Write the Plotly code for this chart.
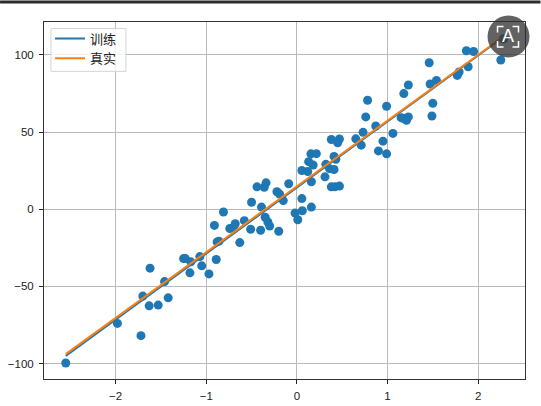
import plotly.graph_objects as go

scatter_x = [-2.55,-1.98,-1.72,-1.70,-1.63,-1.53,-1.42,-1.46,-1.62,-1.25,-1.23,-1.17,-1.18,-1.07,-1.05,-0.97,-0.89,-0.88,-0.86,-0.91,-0.81,-0.74,-0.68,-0.70,-0.63,-0.58,-0.51,-0.50,-0.40,-0.39,-0.35,-0.32,-0.30,-0.20,-0.44,-0.36,-0.34,-0.22,-0.19,-0.15,-0.09,-0.02,0.055,0.06,0.01,0.16,0.055,0.12,0.16,0.13,0.155,0.215,0.18,0.31,0.32,0.36,0.41,0.41,0.43,0.38,0.47,0.45,0.38,0.42,0.47,0.65,0.71,0.73,0.87,0.76,0.78,0.90,0.99,0.95,1.06,0.99,1.15,1.17,1.21,1.23,1.18,1.23,1.49,1.50,1.47,1.54,1.46,1.77,1.79,1.89,1.87,1.95,2.25,2.28]
scatter_y = [-99.6,-74.0,-81.9,-56.3,-62.6,-62.1,-57.4,-46.9,-38.2,-32.0,-32.0,-34.1,-41.2,-30.7,-36.7,-41.9,-32.6,-21.2,-20.7,-10.5,-1.8,-12.5,-9.4,-11.8,-21.6,-7.4,-13.0,4.5,-13.6,1.4,-5.2,-8.3,-10.9,-14.3,14.5,14.2,17.1,11.3,9.8,5.6,16.5,-2.5,6.9,-1.0,-6.8,1.4,25.1,24.4,17.8,30.8,35.9,36.0,28.6,21.0,29.1,26.3,25.7,34.2,32.4,45.2,45.5,43.0,14.5,14.5,15.0,45.6,41.5,49.8,53.9,59.8,70.6,37.8,35.9,44.1,49.1,66.7,59.3,58.9,57.6,59.8,74.9,80.5,60.4,68.6,81.1,83.4,94.9,86.7,88.9,92.3,102.7,102.2,96.7,110.4]

line_x = [-2.55, 2.28]
train_y = [-95.0, 111.6]
true_y = [-93.9, 111.9]
names = ["训练", "真实"]

W, H = 541, 406
L, R, T, B = 44, 525.5, 21.5, 379.5
px = lambda x: (x - L) / (R - L)
py = lambda y: (B - y) / (B - T)

shapes = [
    dict(type="rect", xref="paper", yref="paper", x0=px(0), x1=px(W), y0=py(0), y1=py(3),
         fillcolor="#2b2b2b", line_width=0, layer="above"),
    dict(type="rect", xref="paper", yref="paper", x0=px(51), x1=px(126), y0=py(28), y1=py(71),
         fillcolor="rgba(255,255,255,0.8)", line=dict(color="#d5d5d5", width=1), layer="above"),
    dict(type="circle", xref="paper", yref="paper", x0=px(488), x1=px(530), y0=py(15), y1=py(57),
         fillcolor="rgba(45,45,45,0.75)", line_width=0, layer="above"),
]
# white corner brackets of the icon
for (cx, cy, dx, dy) in [(498, 26, 1, 1), (519, 26, -1, 1), (498, 46.5, 1, -1), (519, 46.5, -1, -1)]:
    shapes.append(dict(type="path", xref="paper", yref="paper", layer="above",
                       path=f"M {px(cx+dx*6)} {py(cy)} L {px(cx)} {py(cy)} L {px(cx)} {py(cy+dy*6)}",
                       line=dict(color="white", width=1.5)))

fig = go.Figure()
fig.add_trace(go.Scatter(x=scatter_x, y=scatter_y, mode="markers", showlegend=False,
                         marker=dict(color="#1f77b4", size=9, line_width=0)))
fig.add_trace(go.Scatter(x=line_x, y=train_y, mode="lines", name=names[0],
                         line=dict(color="#1f77b4", width=2)))
fig.add_trace(go.Scatter(x=line_x, y=true_y, mode="lines", name=names[1],
                         line=dict(color="#ff7f0e", width=2)))

axis = dict(showgrid=True, gridcolor="#b9b9b9", gridwidth=1, zeroline=False, showline=True,
            linecolor="#333333", linewidth=1, mirror=True, ticks="outside", ticklen=4,
            tickcolor="#222222", tickwidth=1, tickfont=dict(family="Liberation Sans", size=11.5, color="#222222"))
fig.update_layout(
    width=W, height=H, margin=dict(l=L, r=W - R, t=T, b=H - B, autoexpand=False),
    paper_bgcolor="white", plot_bgcolor="white",
    font=dict(family="Noto Sans CJK SC", size=12, color="#222222"),
    xaxis=dict(axis, range=[-2.79, 2.517], tickmode="array", tickvals=[-2, -1, 0, 1, 2], ticklabelstandoff=2),
    yaxis=dict(axis, range=[-110, 121.3], tickmode="array", tickvals=[-100, -50, 0, 50, 100], ticklabelstandoff=3),
    legend=dict(x=px(50), y=py(23), xanchor="left", yanchor="top", bgcolor="rgba(0,0,0,0)",
                borderwidth=0, font=dict(family="Noto Sans CJK SC", size=13),
                tracegroupgap=0, itemwidth=30),
    shapes=shapes,
    annotations=[dict(xref="paper", yref="paper", x=px(508.8), y=py(36), text="A", showarrow=False,
                      xanchor="center", yanchor="middle",
                      font=dict(family="Liberation Sans", size=18, color="white"))],
    showlegend=True,
)
fig.write_html("out.html", config=dict(displayModeBar=False),
               post_script="document.body.style.margin='0';document.documentElement.style.overflow='hidden';")
